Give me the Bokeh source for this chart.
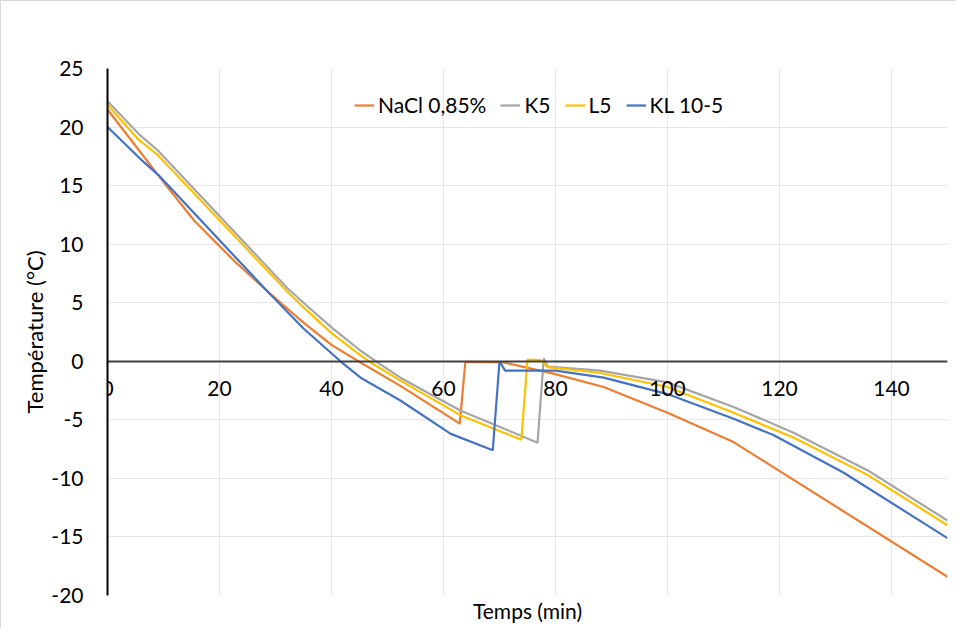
from bokeh.plotting import figure
from bokeh.models import Range1d, FixedTicker, Legend, LegendItem, Title
from bokeh.embed import file_html
from bokeh.resources import INLINE

# --- data ---
nacl_x = [0, 5, 10, 15.5, 23, 28.5, 35, 40, 44.8, 52.3, 62.5, 62.9, 63.9, 70.7, 79.6, 88.6, 100, 111.8, 150]
nacl_y = [21.5, 18.4, 15.3, 12.0, 8.4, 6.0, 3.3, 1.4, 0.0, -2.1, -5.2, -5.35, -0.05, -0.1, -1.05, -2.2, -4.4, -6.9, -18.4]

k5_x = [0, 5.6, 9.0, 32, 35, 40, 45.2, 48.2, 52.3, 63, 76.8, 77.9, 78.6, 88, 100, 111.8, 122.5, 135.7, 150]
k5_y = [22.2, 19.4, 18.0, 6.3, 5.0, 2.9, 0.9, -0.1, -1.4, -4.2, -6.95, 0.25, -0.45, -0.8, -1.8, -3.9, -6.1, -9.3, -13.6]

l5_x = [0, 5.6, 9.0, 32, 35, 40, 45.2, 47.0, 52.3, 63, 73.9, 75.0, 77.3, 78.6, 88, 100, 111.8, 122.5, 135.7, 150]
l5_y = [21.9, 18.9, 17.6, 6.0, 4.6, 2.4, 0.5, -0.1, -1.65, -4.6, -6.7, 0.15, 0.1, -0.5, -1.0, -2.2, -4.4, -6.5, -9.7, -14.0]

kl_x = [0, 6.5, 9.1, 28.5, 35, 41.6, 45.2, 52.3, 61.3, 68.8, 70.0, 71.0, 80, 88.6, 100, 111.8, 118.9, 131.4, 150]
kl_y = [20.0, 17.0, 15.9, 6.0, 2.8, 0.0, -1.4, -3.35, -6.2, -7.6, 0.0, -0.8, -0.8, -1.4, -2.8, -4.9, -6.3, -9.5, -15.1]

series_names = ["NaCl 0,85%", "K5", "L5", "KL 10-5"]
series_colors = ["#ED7D31", "#A5A5A5", "#FFC000", "#4472C4"]

x_ticks = [0, 20, 40, 60, 80, 100, 120, 140]
y_ticks = [-20, -15, -10, -5, 0, 5, 10, 15, 20, 25]

FONT = "Lato"
TXT = "#000000"

p = figure(width=956, height=628, output_backend="svg", toolbar_location=None,
           x_range=Range1d(0, 150), y_range=Range1d(-20, 25),
           min_border_left=106, min_border_right=10, min_border_top=67, min_border_bottom=34)
p.outline_line_color = None
p.background_fill_color = "white"
p.border_fill_color = "white"

# grids
p.xgrid.ticker = FixedTicker(ticks=x_ticks)
p.ygrid.ticker = FixedTicker(ticks=y_ticks)
p.xgrid.grid_line_color = "#e6e6e6"
p.ygrid.grid_line_color = "#e6e6e6"
p.xgrid.grid_line_width = 1
p.ygrid.grid_line_width = 1

# x axis placed at y = 0
xa = p.xaxis[0]
xa.fixed_location = 0
xa.ticker = FixedTicker(ticks=x_ticks)
xa.major_label_overrides = {t: str(t) for t in x_ticks}
xa.major_tick_line_color = None
xa.minor_tick_line_color = None
xa.axis_line_color = "#404040"
xa.axis_line_width = 2
xa.major_label_standoff = 14
xa.major_label_text_font = FONT
xa.major_label_text_font_size = "21px"
xa.major_label_text_color = TXT

ya = p.yaxis[0]
ya.ticker = FixedTicker(ticks=y_ticks)
ya.major_label_overrides = {t: str(t) for t in y_ticks}
ya.major_tick_line_color = None
ya.minor_tick_line_color = None
ya.axis_line_color = "#000000"
ya.axis_line_width = 2
ya.major_label_standoff = 18
ya.major_label_text_font = FONT
ya.major_label_text_font_size = "21px"
ya.major_label_text_color = TXT
ya.axis_label = "Température (°C)"
ya.axis_label_text_font = FONT
ya.axis_label_text_font_size = "22px"
ya.axis_label_text_font_style = "normal"
ya.axis_label_text_color = TXT
ya.axis_label_standoff = 0

p.add_layout(Title(text="Temps (min)", align="center", text_font=FONT,
                   text_font_size="21px", text_font_style="normal",
                   text_color=TXT, standoff=0), "below")

xs = [nacl_x, k5_x, l5_x, kl_x]
ys = [nacl_y, k5_y, l5_y, kl_y]
items = []
for name, color, x, y in zip(series_names, series_colors, xs, ys):
    r = p.line(x, y, line_color=color, line_width=2.2)
    items.append(LegendItem(label=name, renderers=[r]))

legend = Legend(items=items, orientation="horizontal", location=(247, 478),
                label_text_font=FONT, label_text_font_size="21px", label_text_color=TXT,
                glyph_width=20, glyph_height=20, label_standoff=4, spacing=14,
                padding=0, margin=0, border_line_color=None, background_fill_alpha=0)
p.add_layout(legend, "center")

p.styles = {"border-top": "1px solid #d9d9d9", "border-left": "1px solid #d9d9d9"}

open("out.html", "w").write(file_html(p, INLINE))
